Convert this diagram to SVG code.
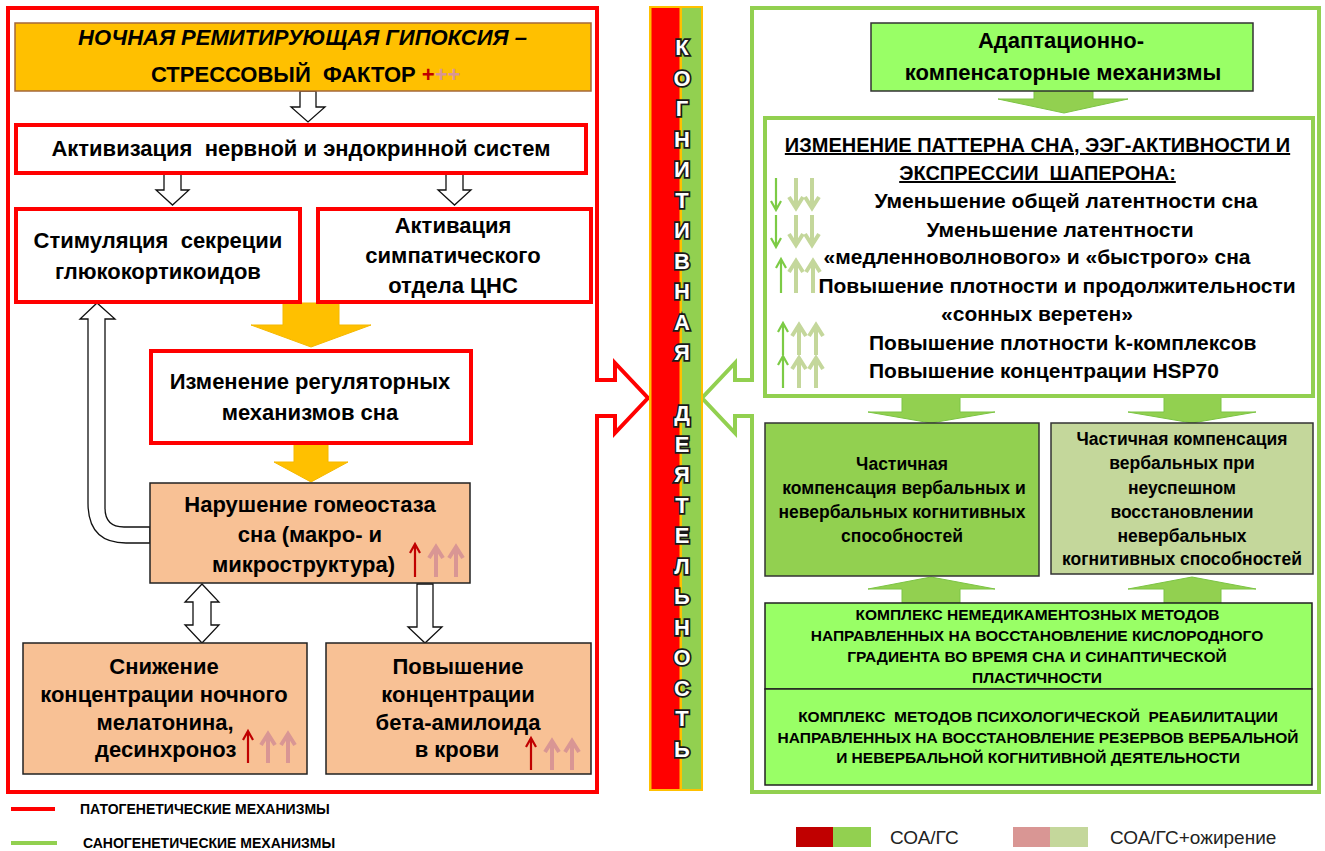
<svg xmlns="http://www.w3.org/2000/svg" width="1325" height="851" viewBox="0 0 1325 851">
<style>
.t{font-family:"Liberation Sans",Arial,sans-serif;font-weight:bold;fill:#000;text-anchor:middle}
.st{text-anchor:start}
.m{font-size:22px}
.r{font-size:21px}
.h{font-size:20px}
.s{font-size:17.5px}
.c{font-size:15.5px}
.lg{font-size:14px;text-anchor:start}
.lr{font-family:"Liberation Sans",Arial,sans-serif;font-size:19px;fill:#222}
.bar{font-family:"Liberation Sans",Arial,sans-serif;font-weight:bold;font-size:22px;fill:#fff;stroke:#1a1a1a;stroke-width:3.5px;paint-order:stroke;text-anchor:middle}
.redbox{fill:#fff;stroke:#FF0000;stroke-width:4}
.peach{fill:#F8C195;stroke:#222;stroke-width:1.5}
.wa{fill:#fff;stroke:#111;stroke-width:1.3;stroke-linejoin:miter}
.oa{fill:#FFC000;stroke:#F5B800;stroke-width:1}
.ga{fill:#92D050;stroke:#7CC444;stroke-width:1}
.dr{stroke:#C00000;stroke-width:2.2;fill:none}
.pk{stroke:#D99694;stroke-width:4;fill:none}
.dg{stroke:#7CCB45;stroke-width:2.2;fill:none}
.pg{stroke:#C4D79B;stroke-width:4;fill:none}
</style>

<g id="frames">
<path d="M8 8 H597 V380 H615 V363 L648 398 L615 433 V416 H597 V792 H8 Z" fill="none" stroke="#FF0000" stroke-width="4"/>
<path d="M752 8 H1319 V792 H752 V416 H735 V433 L702 398 L735 363 V380 H752 Z" fill="none" stroke="#92D050" stroke-width="4"/>
</g>

<g id="bar">
<rect x="649" y="6" width="54" height="785" fill="#FFC000"/>
<rect x="651.5" y="8" width="28" height="781" fill="#FF0000"/>
<rect x="682" y="8" width="19" height="781" fill="#92D050"/>
<text class="bar" x="682" y="55">К</text>
<text class="bar" x="682" y="85.5">О</text>
<text class="bar" x="682" y="116">Г</text>
<text class="bar" x="682" y="146.5">Н</text>
<text class="bar" x="682" y="177">И</text>
<text class="bar" x="682" y="207.5">Т</text>
<text class="bar" x="682" y="238">И</text>
<text class="bar" x="682" y="268.5">В</text>
<text class="bar" x="682" y="299">Н</text>
<text class="bar" x="682" y="329.5">А</text>
<text class="bar" x="682" y="360">Я</text>
<text class="bar" x="682" y="421">Д</text>
<text class="bar" x="682" y="451.5">Е</text>
<text class="bar" x="682" y="482">Я</text>
<text class="bar" x="682" y="512.5">Т</text>
<text class="bar" x="682" y="543">Е</text>
<text class="bar" x="682" y="573.5">Л</text>
<text class="bar" x="682" y="604">Ь</text>
<text class="bar" x="682" y="634.5">Н</text>
<text class="bar" x="682" y="665">О</text>
<text class="bar" x="682" y="695.5">С</text>
<text class="bar" x="682" y="726">Т</text>
<text class="bar" x="682" y="756.5">Ь</text>
</g>

<g id="connectors">
<path class="wa" d="M300 91 H316 V107 H325 L308 122 L291 107 H300 Z"/>
<path class="wa" d="M164 174 H181 V190 H189 L172.5 205 L156 190 H164 Z"/>
<path class="wa" d="M446 174 H463 V190 H471 L454.5 205 L438 190 H446 Z"/>
<path class="oa" d="M283 303 H339 V325 H371 L311 347 L251 325 H283 Z"/>
<path class="oa" d="M294 444 H328 V462 H348 L311 482 L274 462 H294 Z"/>
<path class="wa" d="M150 543 H126 Q88 543 88 503 V319 H80 L97 303 L115 319 H105 V508 Q105 527 124 527 H150 Z"/>
<path class="wa" d="M202 584 L219 602 H211 V625 H219 L202 643 L185 625 H193 V602 H185 Z"/>
<path class="wa" d="M417 584 H433 V627 H442 L425 643 L408 627 H417 Z"/>
<path class="ga" d="M1034 91 H1093 V99 H1128 L1064 113 L998 99 H1034 Z"/>
<path class="ga" d="M902 397 H960 V412 H995 L931 423 L868 412 H902 Z"/>
<path class="ga" d="M1164 397 H1221 V412 H1256 L1192 423 L1128 412 H1164 Z"/>
<path class="ga" d="M902 603 H960 V589 H995 L931 577 L868 589 H902 Z"/>
<path class="ga" d="M1164 603 H1221 V589 H1256 L1192 577 L1128 589 H1164 Z"/>
</g>

<g id="n-header">
<rect x="15" y="23" width="576" height="68" fill="#FFC000" stroke="#A5683A" stroke-width="1.5"/>
<text class="t m" x="302.5" y="45" font-style="italic">НОЧНАЯ РЕМИТИРУЮЩАЯ ГИПОКСИЯ –</text>
<text class="t m st" x="151" y="82" xml:space="preserve">СТРЕССОВЫЙ  ФАКТОР <tspan fill="#C00000">+</tspan><tspan fill="#D99694">++</tspan></text>
</g>

<g id="n-activation">
<rect class="redbox" x="16" y="125" width="570" height="48"/>
<text class="t m" x="301" y="156" xml:space="preserve">Активизация  нервной и эндокринной систем</text>
</g>

<g id="n-gluco">
<rect class="redbox" x="16" y="209" width="284" height="93"/>
<text class="t m" x="158" y="248" xml:space="preserve">Стимуляция  секреции</text>
<text class="t m" x="158" y="279">глюкокортикоидов</text>
</g>

<g id="n-sympathetic">
<rect class="redbox" x="318" y="209" width="273" height="93"/>
<text class="t m" x="453" y="233">Активация</text>
<text class="t m" x="453" y="263">симпатического</text>
<text class="t m" x="453" y="293">отдела ЦНС</text>
</g>

<g id="n-regulatory">
<rect class="redbox" x="151" y="351" width="320" height="92"/>
<text class="t m" x="310" y="389">Изменение регуляторных</text>
<text class="t m" x="310" y="420">механизмов сна</text>
</g>

<g id="n-homeostasis">
<rect class="peach" x="150" y="483" width="320" height="100"/>
<text class="t m" x="310" y="512">Нарушение гомеостаза</text>
<text class="t m" x="310" y="542">сна (макро- и</text>
<text class="t m st" x="212" y="572">микроструктура)</text>
<path class="dr" d="M415 577 V544 M410 553 L415 544 L420 553"/>
<path class="pk" d="M436 577 V547 M429 558 L436 547 L443 558"/>
<path class="pk" d="M456 577 V547 M449 558 L456 547 L463 558"/>
</g>

<g id="n-melatonin">
<rect class="peach" x="23" y="643" width="284" height="131"/>
<text class="t m" x="164" y="674">Снижение</text>
<text class="t m" x="164" y="702">концентрации ночного</text>
<text class="t m" x="165" y="730">мелатонина,</text>
<text class="t m st" x="95" y="757">десинхроноз</text>
<path class="dr" d="M248 763 V731 M243 740 L248 731 L253 740"/>
<path class="pk" d="M268 763 V734 M261 745 L268 734 L275 745"/>
<path class="pk" d="M288 763 V734 M281 745 L288 734 L295 745"/>
</g>

<g id="n-amyloid">
<rect class="peach" x="326" y="643" width="265" height="131"/>
<text class="t m" x="458" y="674">Повышение</text>
<text class="t m" x="458" y="702">концентрации</text>
<text class="t m" x="458" y="730">бета-амилоида</text>
<text class="t m" x="457" y="757">в крови</text>
<path class="dr" d="M531 770 V738 M526 747 L531 738 L536 747"/>
<path class="pk" d="M552 770 V741 M545 752 L552 741 L559 752"/>
<path class="pk" d="M572 770 V741 M565 752 L572 741 L579 752"/>
</g>

<g id="n-adaptation">
<rect x="871" y="23" width="382" height="68" fill="#99FF66" stroke="#333" stroke-width="1.5"/>
<text class="t m" x="1061" y="48">Адаптационно-</text>
<text class="t m" x="1063" y="80">компенсаторные механизмы</text>
</g>

<g id="n-pattern">
<rect x="765" y="118" width="548" height="278" fill="#fff" stroke="#92D050" stroke-width="4"/>
<text class="t h" x="1037.5" y="152" text-decoration="underline">ИЗМЕНЕНИЕ ПАТТЕРНА СНА, ЭЭГ-АКТИВНОСТИ И</text>
<text class="t h" x="1037.5" y="180" text-decoration="underline" xml:space="preserve">ЭКСПРЕССИИ  ШАПЕРОНА:</text>
<text class="t r" x="1066" y="208">Уменьшение общей латентности сна</text>
<text class="t r" x="1060" y="237">Уменьшение латентности</text>
<text class="t r" x="1037" y="264">«медленноволнового» и «быстрого» сна</text>
<text class="t r" x="1057" y="293">Повышение плотности и продолжительности</text>
<text class="t r" x="1037" y="321">«сонных веретен»</text>
<text class="t r st" x="869" y="350">Повышение плотности k-комплексов</text>
<text class="t r st" x="869" y="378">Повышение концентрации HSP70</text>
<path class="dg" d="M776 178 V210 M771 201 L776 210 L781 201"/>
<path class="pg" d="M796 178 V208 M789 197 L796 208 L803 197"/>
<path class="pg" d="M812 178 V208 M805 197 L812 208 L819 197"/>
<path class="dg" d="M776 215 V247 M771 238 L776 247 L781 238"/>
<path class="pg" d="M796 215 V245 M789 234 L796 245 L803 234"/>
<path class="pg" d="M812 215 V245 M805 234 L812 245 L819 234"/>
<path class="dg" d="M781 293 V259 M776 268 L781 259 L786 268"/>
<path class="pg" d="M796 293 V261 M789 272 L796 261 L803 272"/>
<path class="pg" d="M813 293 V261 M806 272 L813 261 L820 272"/>
<path class="dg" d="M783 355 V323 M778 332 L783 323 L788 332"/>
<path class="pg" d="M799 355 V325 M792 336 L799 325 L806 336"/>
<path class="pg" d="M816 355 V325 M809 336 L816 325 L823 336"/>
<path class="dg" d="M783 388 V356 M778 365 L783 356 L788 365"/>
<path class="pg" d="M799 388 V358 M792 369 L799 358 L806 369"/>
<path class="pg" d="M816 388 V358 M809 369 L816 358 L823 369"/>
</g>

<g id="n-partial1">
<rect x="765" y="423" width="274" height="153" fill="#92D050" stroke="#333" stroke-width="1.5"/>
<text class="t s" x="902" y="470">Частичная</text>
<text class="t s" x="904" y="494">компенсация вербальных и</text>
<text class="t s" x="902" y="518">невербальных когнитивных</text>
<text class="t s" x="902" y="542">способностей</text>
</g>

<g id="n-partial2">
<rect x="1051" y="423" width="262" height="151" fill="#C4D79B" stroke="#333" stroke-width="1.5"/>
<text class="t s" x="1182" y="445">Частичная компенсация</text>
<text class="t s" x="1182" y="469">вербальных при</text>
<text class="t s" x="1182" y="494">неуспешном</text>
<text class="t s" x="1182" y="518">восстановлении</text>
<text class="t s" x="1182" y="542">невербальных</text>
<text class="t s" x="1182" y="565">когнитивных способностей</text>
</g>

<g id="n-nondrug">
<rect x="765" y="603" width="547" height="86" fill="#99FF66" stroke="#222" stroke-width="1.5"/>
<text class="t c" x="1037.5" y="620">КОМПЛЕКС НЕМЕДИКАМЕНТОЗНЫХ МЕТОДОВ</text>
<text class="t c" x="1037" y="641">НАПРАВЛЕННЫХ НА ВОССТАНОВЛЕНИЕ КИСЛОРОДНОГО</text>
<text class="t c" x="1037" y="662">ГРАДИЕНТА ВО ВРЕМЯ СНА И СИНАПТИЧЕСКОЙ</text>
<text class="t c" x="1037" y="683">ПЛАСТИЧНОСТИ</text>
</g>

<g id="n-psych">
<rect x="765" y="689" width="547" height="96" fill="#99FF66" stroke="#222" stroke-width="1.5"/>
<text class="t c" x="1038" y="722" xml:space="preserve">КОМПЛЕКС  МЕТОДОВ ПСИХОЛОГИЧЕСКОЙ  РЕАБИЛИТАЦИИ</text>
<text class="t c" x="1038" y="743">НАПРАВЛЕННЫХ НА ВОССТАНОВЛЕНИЕ РЕЗЕРВОВ ВЕРБАЛЬНОЙ</text>
<text class="t c" x="1038" y="763">И НЕВЕРБАЛЬНОЙ КОГНИТИВНОЙ ДЕЯТЕЛЬНОСТИ</text>
</g>

<g id="legend">
<line x1="11" y1="809" x2="55" y2="809" stroke="#FF0000" stroke-width="4"/>
<text class="t lg" x="80" y="814">ПАТОГЕНЕТИЧЕСКИЕ МЕХАНИЗМЫ</text>
<line x1="11" y1="843" x2="57" y2="843" stroke="#92D050" stroke-width="4"/>
<text class="t lg" x="83" y="848">САНОГЕНЕТИЧЕСКИЕ МЕХАНИЗМЫ</text>
<rect x="796" y="827" width="37" height="20" fill="#C00000"/>
<rect x="833" y="827" width="38" height="20" fill="#92D050"/>
<text class="lr" x="890" y="844">СОА/ГС</text>
<rect x="1013" y="827" width="37" height="20" fill="#D99694"/>
<rect x="1050" y="827" width="38" height="20" fill="#C4D79B"/>
<text class="lr" x="1110" y="844">СОА/ГС+ожирение</text>
</g>
</svg>
